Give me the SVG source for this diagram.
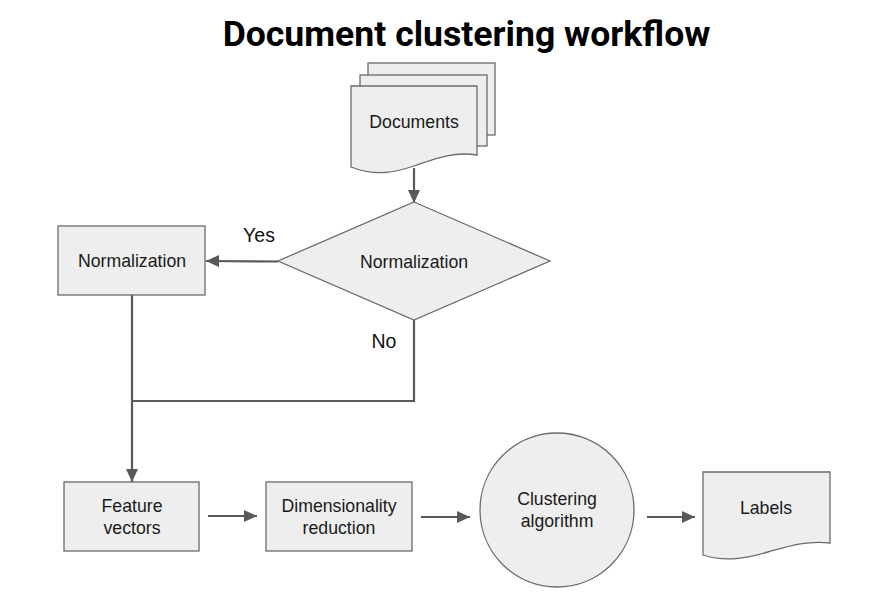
<svg xmlns="http://www.w3.org/2000/svg" width="869" height="592" viewBox="0 0 869 592">
<style>
.shape{fill:#eeeeee;stroke:#6b6b6b;stroke-width:1.3}
.lbl{font-family:"Liberation Sans",Arial,sans-serif;font-size:17.7px;fill:#1a1a1a;text-anchor:middle;dominant-baseline:central}
.edge{fill:none;stroke:#595959;stroke-width:2.2}
.elbl{font-family:"Liberation Sans",Arial,sans-serif;font-size:19.5px;fill:#111;text-anchor:middle;dominant-baseline:central}
.title{font-family:Roboto,"Liberation Sans",sans-serif;font-weight:bold;font-size:35.6px;fill:#000;text-anchor:middle}
</style>
<defs>
<marker id="arr" markerUnits="userSpaceOnUse" markerWidth="14" markerHeight="12" refX="13" refY="6" orient="auto">
<path d="M0,0 L13,6 L0,12 Z" fill="#595959"/>
</marker>
</defs>
<rect width="869" height="592" fill="#ffffff"/>
<text class="title" x="466.5" y="46">Document clustering workflow</text>

<g id="connectors">
<path class="edge" d="M414,168 V203" marker-end="url(#arr)"/>
<path class="edge" d="M278,261.5 L206,261" marker-end="url(#arr)"/>
<path class="edge" d="M132,295 V482" marker-end="url(#arr)"/>
<path class="edge" d="M414,320 V401 H132"/>
<path class="edge" d="M208,516 H257" marker-end="url(#arr)"/>
<path class="edge" d="M421,517 H470" marker-end="url(#arr)"/>
<path class="edge" d="M647,517 H695" marker-end="url(#arr)"/>
<text class="elbl" x="259" y="235">Yes</text>
<text class="elbl" x="384" y="341">No</text>
</g>

<g id="documents">
<rect class="shape" x="368" y="63" width="127" height="72"/>
<rect class="shape" x="360" y="75" width="127" height="71"/>
<path class="shape" d="M351,86 H477 V155 C452,151 432,160 414,166 C396,172 376,177 351,167 Z"/>
<text class="lbl" x="414" y="122">Documents</text>
</g>

<g id="decision">
<path class="shape" d="M414,202 L550,261 L414,320 L278,261 Z"/>
<text class="lbl" x="414" y="262">Normalization</text>
</g>

<g id="normalization">
<rect class="shape" x="58" y="226" width="147" height="69"/>
<text class="lbl" x="132" y="261">Normalization</text>
</g>

<g id="feature-vectors">
<rect class="shape" x="64" y="482" width="135" height="69"/>
<text class="lbl" x="132" y="506">Feature</text>
<text class="lbl" x="132" y="528">vectors</text>
</g>

<g id="dimensionality-reduction">
<rect class="shape" x="266" y="482" width="146" height="69"/>
<text class="lbl" x="339" y="506">Dimensionality</text>
<text class="lbl" x="339" y="528">reduction</text>
</g>

<g id="clustering-algorithm">
<circle class="shape" cx="557" cy="510" r="77"/>
<text class="lbl" x="557" y="499">Clustering</text>
<text class="lbl" x="557" y="521">algorithm</text>
</g>

<g id="labels">
<path class="shape" d="M703,472 H830 V543 C806,540 786,547 768,552 C750,557 728,563 703,555 Z"/>
<text class="lbl" x="766" y="508">Labels</text>
</g>
</svg>
